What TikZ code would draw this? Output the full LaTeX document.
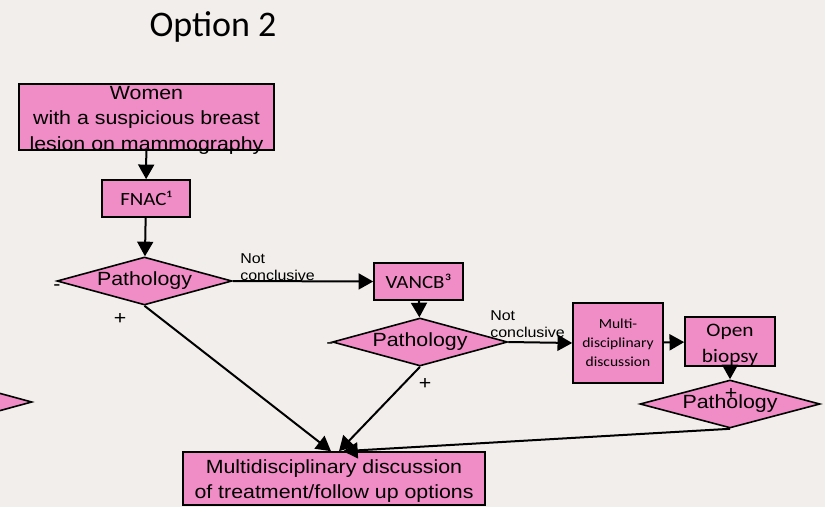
\documentclass[tikz,border=0pt]{standalone}
\usepackage{fontspec}
\setmainfont{Liberation Sans}[FakeStretch=1.12]
\newfontfamily\calibrifont{Carlito}[FakeStretch=1.12]
\newfontfamily\titlefont{Carlito}
\usetikzlibrary{arrows.meta,shapes.geometric}
\definecolor{boxpink}{RGB}{240,140,198}
\definecolor{slidebg}{RGB}{241,238,235}
% extra room above the first line, so that the text sits low in its box
\newcommand{\topgap}{\rule{0pt}{14.5pt}}

\begin{document}
\begin{tikzpicture}[
    x=0.75pt, y=-0.75pt,
    box/.style={draw, fill=boxpink, line width=1.2pt, inner sep=0pt, align=center, font=\fontsize{14.3}{19}\selectfont},
    cbox/.style={box, font=\calibrifont\fontsize{14}{18}\selectfont},
    overflow/.style={inner ysep=-3pt},
    decision/.style={draw, fill=boxpink, diamond, aspect=3.6, inner sep=0pt, line width=1.2pt,
        minimum width=131.25pt, minimum height=36pt, font=\fontsize{14.3}{18}\selectfont},
    note/.style={font=\fontsize{10.7}{13}\selectfont, align=left, inner sep=0pt},
    sign/.style={font=\fontsize{14.3}{15}\selectfont, inner sep=0pt},
    flow/.style={-{Triangle[width=12pt,length=11pt]}, line width=1.5pt}
]

% slide background
\fill[slidebg] (0,0) rectangle (825,507);
\useasboundingbox (0,0) rectangle (825,507);
\clip (0,0) rectangle (825,507);

\node[font=\titlefont\fontsize{27}{32}\selectfont] (title) at (213,27) {Option 2};

% first line: FNAC
\node[box, overflow, minimum width=191.25pt, minimum height=49.5pt] (women) at (146.5,117) {\topgap Women\\with a suspicious breast\\lesion on mammography};
\node[cbox, minimum width=66pt, minimum height=27.75pt] (fnac) at (146,198.5) {FNAC¹};
\node[decision] (path1) at (144.5,281) {Pathology};
\node[sign] (minus1) at (57,288) {-};
\node[sign] (plus1) at (120,319) {+};

% partly hidden branch on the left
\node[decision] (path0) at (-55.5,402) {};

% second line: VANCB
\node[cbox, minimum width=66.75pt, minimum height=27.75pt] (vancb) at (418.5,281.5) {VANCB³};
\node[decision] (path2) at (420,342) {Pathology};
\node[sign] (minus2) at (330,346) {-};
\node[sign] (plus2) at (425,384) {+};
\node[note, anchor=south west] (nc1) at (240,281) {Not\\conclusive};
\node[note, anchor=south west] (nc2) at (490,338) {Not\\conclusive};

% third line: open biopsy
\node[cbox, font=\calibrifont\fontsize{10.4}{14.25}\selectfont, minimum width=67.5pt, minimum height=60pt] (mdd) at (618,343) {Multi-\\disciplinary\\discussion};
\node[cbox, overflow, font=\calibrifont\fontsize{14.3}{19}\selectfont, minimum width=67.5pt, minimum height=36.75pt] (openb) at (730,341.5) {\topgap Open\\biopsy};
\node[decision, minimum width=135pt] (path3) at (730,404) {Pathology};
\node[sign] (plus3) at (731,394) {+};

\node[box, overflow, minimum width=226.5pt, minimum height=39.75pt] (mdt) at (334,478.5) {\topgap Multidisciplinary discussion\\of treatment/follow up options};

\draw[flow] (women) -- (fnac);
\draw[flow] (fnac) -- (path1);
\draw[flow] (path1.east) -- (vancb.west);
\draw[flow] (vancb) -- (path2);
\draw[flow] (path2.east) -- (mdd.west);
\draw[flow] (mdd) -- (openb);
\draw[flow] (openb) -- (path3);
\draw[flow] (path1.south) -- ([xshift=-2.25pt]mdt.north);
\draw[flow] (path2.south) -- ([xshift=3.75pt]mdt.north);
\draw[flow] (path3.south) -- ([xshift=6.75pt]mdt.north);

\end{tikzpicture}
\end{document}
